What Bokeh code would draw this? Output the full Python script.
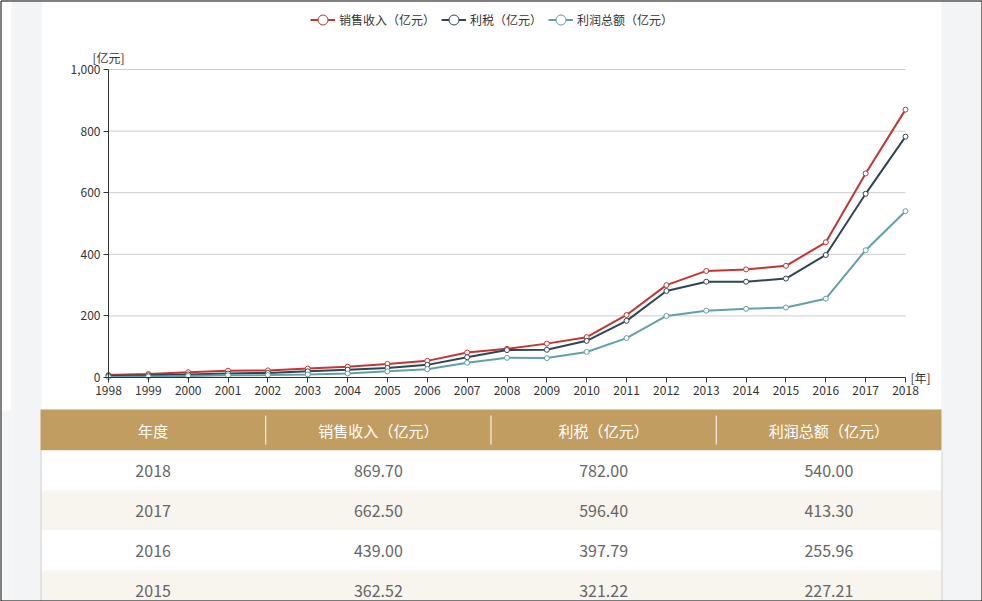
from bokeh.plotting import figure
from bokeh.models import (Range1d, FixedTicker, NumeralTickFormatter, Legend, LegendItem, Label)
from bokeh.core.properties import value
from bokeh.embed import file_html
from bokeh.resources import INLINE

# ---------------- data ----------------
years = [1998, 1999, 2000, 2001, 2002, 2003, 2004, 2005, 2006, 2007, 2008,
         2009, 2010, 2011, 2012, 2013, 2014, 2015, 2016, 2017, 2018]
sales = [8, 11, 17, 22, 23, 29, 35, 44, 54, 81, 93,
         110, 131, 203, 300, 346, 351, 362.52, 439.00, 662.50, 869.70]
tax = [5, 7, 10, 13, 15, 20, 25, 31, 41, 66, 89,
       90, 119, 184, 281, 311, 311, 321.22, 397.79, 596.40, 782.00]
profit = [2, 3, 5, 7, 8, 10, 13, 20, 27, 48, 64,
          63, 83, 128, 200, 217, 223, 227.21, 255.96, 413.30, 540.00]
series_names = ["销售收入（亿元）", "利税（亿元）", "利润总额（亿元）"]
series_colors = ["#c23531", "#2f4554", "#61a0a8"]
y_ticks = [0, 200, 400, 600, 800, 1000]
table_header = ["年度", "销售收入（亿元）", "利税（亿元）", "利润总额（亿元）"]
table_rows_n = 4  # visible rows, most recent year first

FONT = "Noto Sans CJK SC"
GRAY_BG = "#f3f4f6"

# ---------------- page geometry (pixels) ----------------
PW, PH = 982, 601
PX_L, PX_R = 108, 905      # pixel x of first / last year
PY_T, PY_B = 69, 377       # pixel y of y-max / 0
y_max = y_ticks[-1]
xs = (years[-1] - years[0]) / (PX_R - PX_L)
ys = y_max / (PY_B - PY_T)
x_range = Range1d(years[0] - PX_L * xs, years[-1] + (PW - PX_R) * xs)
y_range = Range1d(-(PH - PY_B) * ys, y_max + PY_T * ys)

p = figure(width=PW, height=PH, output_backend="svg", toolbar_location=None,
           x_range=x_range, y_range=y_range, min_border=0, title_location=None,
           background_fill_color="white", border_fill_color="white", outline_line_color=None)
p.extra_x_ranges = {"px": Range1d(0, PW)}
p.extra_y_ranges = {"px": Range1d(PH, 0)}
PXK = dict(x_range_name="px", y_range_name="px")

# page background strips
p.quad(left=[11, 1, 941], right=[41, 11, 981], top=[0, 410, 0], bottom=[PH, PH, PH],
       fill_color=GRAY_BG, line_color=None, level="underlay", **PXK)

# grid lines
p.xgrid.grid_line_color = None
p.ygrid.grid_line_color = None
p.segment(x0=[years[0]] * (len(y_ticks) - 1), x1=[years[-1]] * (len(y_ticks) - 1),
          y0=y_ticks[1:], y1=y_ticks[1:], line_color="#cccccc", line_width=1)

# series
items = []
for vals, name, col in zip([sales, tax, profit], series_names, series_colors):
    ln = p.line(years, vals, line_color=col, line_width=2)
    sc = p.scatter(years, vals, size=5, marker="circle", fill_color="white",
                   line_color=col, line_width=1)
    items.append(LegendItem(label=name, renderers=[ln, sc]))

legend = Legend(items=items, orientation="horizontal", location=(310, PH - 32),
                border_line_alpha=0, background_fill_alpha=0, padding=0, margin=0,
                spacing=6, label_standoff=4, glyph_width=25, glyph_height=25,
                label_text_font=FONT, label_text_font_size="12px", label_text_color="#333333",
                label_height=14)
p.add_layout(legend, "center")

# axes (positioned on the data)
p.xaxis.fixed_location = 0
p.yaxis.fixed_location = years[0]
p.xaxis.bounds = (years[0], years[-1])
p.yaxis.bounds = (0, y_max)
p.xaxis.ticker = FixedTicker(ticks=years)
p.yaxis.ticker = FixedTicker(ticks=y_ticks)
p.yaxis.formatter = NumeralTickFormatter(format="0,0")
for ax in (p.xaxis[0], p.yaxis[0]):
    ax.axis_line_color = "#333333"
    ax.major_tick_line_color = "#333333"
    ax.major_tick_out = 5
    ax.major_tick_in = 0
    ax.minor_tick_line_color = None
    ax.major_label_text_font = FONT
    ax.major_label_text_font_size = "12px"
    ax.major_label_text_color = "#333333"
    ax.major_label_standoff = 3

p.add_layout(Label(x=years[0], y=y_max, text="[亿元]", text_align="center", text_baseline="bottom",
                   y_offset=4, text_font=FONT, text_font_size="12px", text_color="#333333"))
p.add_layout(Label(x=years[-1], y=0, text="[年]", text_align="left", text_baseline="middle",
                   x_offset=5, text_font=FONT, text_font_size="12px", text_color="#333333"))

# ---------------- table ----------------
TL, TR = 40, 941
T_TOP = 409
hdr_h, row_h = 41, 40
col_w = (TR - TL) / 4

p.quad(left=[TL], right=[TR], top=[T_TOP], bottom=[T_TOP + hdr_h], fill_color="#c19d61",
       line_color=None, **PXK)
seps = [TL + col_w * k for k in range(1, 4)]
p.segment(x0=seps, x1=seps, y0=[T_TOP + 6] * 3, y1=[T_TOP + 35] * 3,
          line_color="white", line_width=1, **PXK)
p.text(x=[TL + col_w * (k + 0.5) for k in range(4)], y=[T_TOP + hdr_h / 2] * 4, text=table_header,
       text_align="center", text_baseline="middle", text_color="white",
       text_font=value(FONT), text_font_size="15px", **PXK)

idx = list(range(len(years) - 1, len(years) - 1 - table_rows_n, -1))
tops = [T_TOP + hdr_h + row_h * i for i in range(table_rows_n)]
p.quad(left=[TL + 1] * table_rows_n, right=[TR] * table_rows_n, top=tops,
       bottom=[tp + row_h for tp in tops],
       fill_color=["white" if i % 2 == 0 else "#f8f4ee" for i in range(table_rows_n)],
       line_color=None, **PXK)
for c, colvals in enumerate([[str(years[j]) for j in idx],
                             ["%.2f" % sales[j] for j in idx],
                             ["%.2f" % tax[j] for j in idx],
                             ["%.2f" % profit[j] for j in idx]]):
    p.text(x=[TL + col_w * (c + 0.5)] * table_rows_n, y=[tp + row_h / 2 for tp in tops],
           text=colvals, text_align="center", text_baseline="middle", text_color="#666666",
           text_font=value(FONT), text_font_size="16px", **PXK)
p.segment(x0=[TL + 0.5, TR + 0.5], x1=[TL + 0.5, TR + 0.5], y0=[T_TOP + hdr_h] * 2, y1=[PH] * 2,
          line_color="#d0d0d0", line_width=1, **PXK)

# screenshot frame
p.quad(left=[0.5], right=[PW - 0.5], top=[0.5], bottom=[PH - 0.5], fill_color=None,
       line_color="black", line_width=1, level="overlay", **PXK)

open("out.html", "w").write(file_html(p, INLINE))
